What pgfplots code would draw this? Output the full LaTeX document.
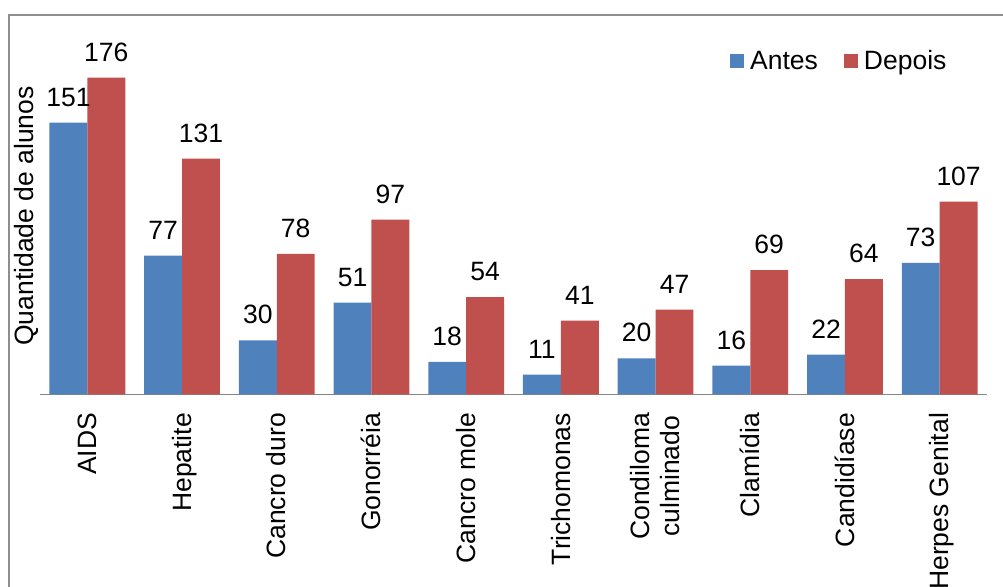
\documentclass[border=0pt]{standalone}
\usepackage{fontspec}
\setmainfont{Liberation Sans}
\usepackage{pgfplots}
\pgfplotsset{compat=1.18}

\definecolor{antes}{HTML}{4F81BD}
\definecolor{depois}{HTML}{C0504D}
\definecolor{eixo}{HTML}{868686}
\definecolor{moldura}{HTML}{8E8E8E}

% uniform line box so every rotated category name centres on its tick
\newcommand{\lbl}[1]{\rule[-0.212em]{0pt}{1.117em}#1}

\pgfplotsset{
  quadrado/.style={legend image code/.code={\fill[##1] (0pt,-7pt) rectangle (14pt,7pt);}},
}

\begin{document}
\begin{tikzpicture}[font=\fontsize{26.5}{30.5}\selectfont]
\path[use as bounding box, clip] (0,0) rectangle (1003pt,-586pt);
\draw[moldura, line width=1.5pt] (9pt,-15pt) rectangle (1030pt,-640pt);
\begin{axis}[
  at={(40pt,-394.3pt)}, anchor=south west,
  scale only axis, width=947pt, height=360pt,
  xmin=-0.5, xmax=9.5, ymin=0, ymax=200,
  ybar=0pt, bar width=37.9pt,
  axis x line*=bottom, axis y line*=left,
  x axis line style={eixo, line width=1.5pt},
  y axis line style={draw=none},
  xtick={0,...,9}, ytick=\empty, major tick length=0pt,
  xticklabels={\lbl{AIDS}, \lbl{Hepatite}, \lbl{Cancro duro}, \lbl{Gonorréia},
    \lbl{Cancro mole}, \lbl{Trichomonas}, {\lbl{Condiloma}\\\lbl{culminado}},
    \lbl{Clamídia}, \lbl{Candidíase}, \lbl{Herpes Genital}},
  xticklabel style={rotate=90, anchor=east, inner sep=0pt, align=center},
  xticklabel shift=18.5pt,
  nodes near coords,
  every node near coord/.append style={anchor=base, inner sep=0pt, yshift=16.5pt, text=black},
  /pgf/number format/assume math mode=true,
  every axis y label/.style={at={(axis description cs:-0.0069,0.495)}, rotate=90, anchor=base},
  ylabel={Quantidade de alunos},
  legend columns=2,
  legend style={at={(axis description cs:0.7286,0.9258)}, anchor=west,
    draw=none, fill=none, inner sep=0pt, nodes={inner sep=0pt},
    /tikz/every odd column/.append style={column sep=6pt},
    /tikz/every even column/.append style={column sep=26pt}},
  legend cell align=left,
]
\addplot[fill=antes, draw=none, quadrado] coordinates {
  (0,151) (1,77) (2,30) (3,51) (4,18) (5,11) (6,20) (7,16) (8,22) (9,73)};
\addplot[fill=depois, draw=none, quadrado] coordinates {
  (0,176) (1,131) (2,78) (3,97) (4,54) (5,41) (6,47) (7,69) (8,64) (9,107)};
\legend{Antes, Depois}
\end{axis}
\end{tikzpicture}
\end{document}
